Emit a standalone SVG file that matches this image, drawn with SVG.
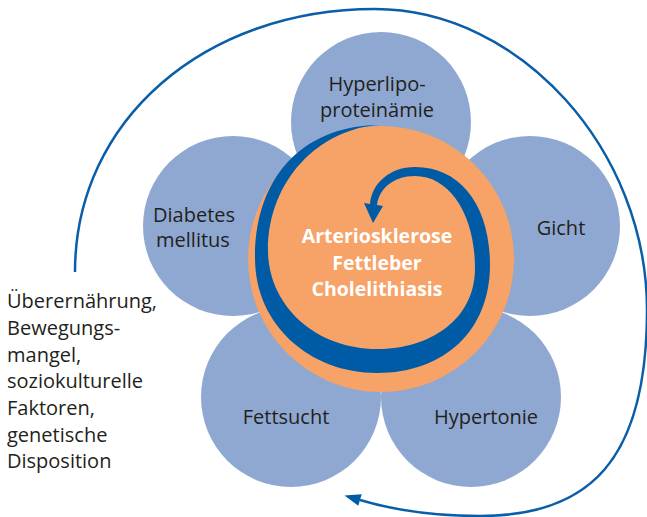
<svg xmlns="http://www.w3.org/2000/svg" width="647" height="517" viewBox="0 0 647 517">
<style>
.petal{fill:#8fa8d1}
.lbl{font-family:"Open Sans","Noto Sans",sans-serif;font-size:20px;fill:#231f20}
.ctr{font-family:"Open Sans","Noto Sans",sans-serif;font-size:19.5px;font-weight:700;fill:#ffffff}
.dk{fill:#005ba6}
</style>
<rect width="647" height="517" fill="#ffffff"/>
<g id="connectors">
<path d="M 75 272 C 75 120, 205 9, 375 9 C 520 9, 647 150, 647 310 C 647 460, 590 516, 480 516 C 430 516, 390 509, 360 500" fill="none" stroke="#0a5ea8" stroke-width="2.5"/>
<polygon class="dk" points="344.5,495.6 361.7,494.3 358.3,505.7"/>
</g>
<g id="hyperlipoproteinaemie">
<circle class="petal" cx="381" cy="122" r="90"/>
<text class="lbl" text-anchor="middle"><tspan x="377" y="91">Hyperlipo-</tspan><tspan x="377" y="117">proteinämie</tspan></text>
</g>
<g id="diabetes">
<circle class="petal" cx="233" cy="226" r="90"/>
<text class="lbl" text-anchor="middle"><tspan x="194" y="222">Diabetes</tspan><tspan x="193" y="247">mellitus</tspan></text>
</g>
<g id="gicht">
<circle class="petal" cx="530" cy="226" r="90"/>
<text class="lbl" x="561" y="235" text-anchor="middle">Gicht</text>
</g>
<g id="fettsucht">
<circle class="petal" cx="291" cy="397" r="90"/>
<text class="lbl" x="286" y="424" text-anchor="middle">Fettsucht</text>
</g>
<g id="hypertonie">
<circle class="petal" cx="471" cy="397" r="90"/>
<text class="lbl" x="486" y="424" text-anchor="middle">Hypertonie</text>
</g>
<g id="center">
<circle cx="381" cy="259" r="133" fill="#f7a266"/>
<path class="dk" d="M 380 125 C 310 125, 255 170, 255 258 C 255 325, 310 373, 377 373 C 445 373, 490 330, 490 265 C 490 205, 460 167, 415 167 C 390 167, 372 183, 370 204 L 364 203 L 373 223 L 383 206 L 377 205 C 379 189, 393 176, 415 176 C 450 176, 475 215, 475 268 C 475 320, 430 349, 377 349 C 315 349, 268 305, 268 250 C 268 180, 320 128, 380 125 Z"/>
<text class="ctr" text-anchor="middle"><tspan x="377" y="243">Arteriosklerose</tspan><tspan x="377" y="270">Fettleber</tspan><tspan x="377" y="296">Cholelithiasis</tspan></text>
</g>
<g id="ursachen">
<text class="lbl"><tspan x="7" y="308">Überernährung,</tspan><tspan x="7" y="335">Bewegungs-</tspan><tspan x="7" y="362">mangel,</tspan><tspan x="7" y="388">soziokulturelle</tspan><tspan x="7" y="415">Faktoren,</tspan><tspan x="7" y="442">genetische</tspan><tspan x="7" y="468">Disposition</tspan></text>
</g>
</svg>
